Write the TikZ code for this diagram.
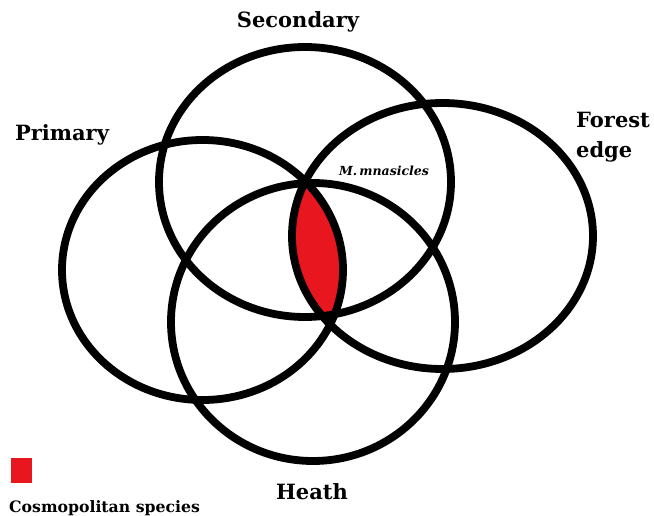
\documentclass[tikz,border=0pt]{standalone}
\usepackage{fontspec}
\setmainfont{DejaVu Serif}
\definecolor{lensred}{HTML}{E8161E}
\begin{document}
\begin{tikzpicture}[x=1pt,y=-1pt,
  ring/.style={draw=black,line width=7.8pt},
  lbl/.style={font=\bfseries\fontsize{21}{26}\selectfont,inner sep=0pt},
  smalllbl/.style={font=\bfseries\fontsize{15.7}{18}\selectfont,inner sep=0pt},
  species/.style={font=\bfseries\itshape\fontsize{12.5}{14}\selectfont,inner sep=0pt}]
\useasboundingbox (0,0) rectangle (654,516);
\fill[white] (0,0) rectangle (654,516);
% red lens: intersection of Primary and Forest edge
\begin{scope}
  \clip (202.5,270) ellipse [x radius=140.5pt, y radius=130pt];
  \fill[lensred] (442.5,236) ellipse [x radius=150.5pt, y radius=133pt];
\end{scope}
% ellipses
\draw[ring] (305,182) ellipse [x radius=146pt, y radius=135pt];   % Secondary
\draw[ring] (202.5,270) ellipse [x radius=140.5pt, y radius=130pt]; % Primary
\draw[ring] (442.5,236) ellipse [x radius=150.5pt, y radius=133pt]; % Forest edge
\draw[ring] (313,322) ellipse [x radius=142pt, y radius=139pt];   % Heath
% labels
\node[lbl] (sec) at (298,22) {Secondary};
\node[lbl] (pri) at (62,135) {Primary};
\node[lbl,anchor=west,align=left,font=\bfseries\fontsize{21}{30}\selectfont] (for) at (576,137) {Forest\\edge};
\node[lbl] (hea) at (312,492) {Heath};
\node[species] (mna) at (384,171) {M.\,mnasicles};
\fill[lensred] (11,458) rectangle (32,483);
\node[smalllbl,anchor=base west] (cos) at (9,512) {Cosmopolitan species};
\end{tikzpicture}
\end{document}
